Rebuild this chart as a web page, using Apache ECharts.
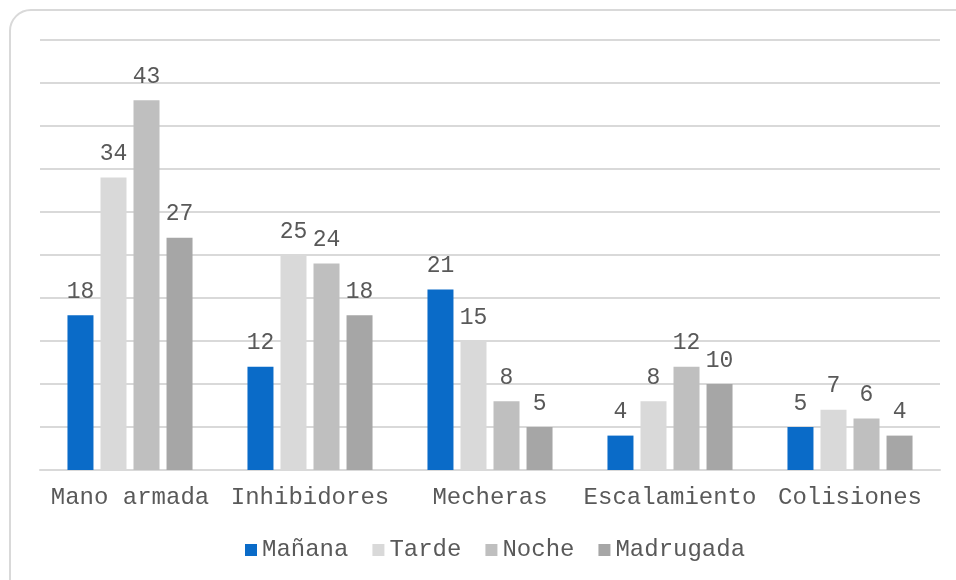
<!DOCTYPE html>
<html>
<head>
<meta charset="utf-8">
<script src="https://cdn.jsdelivr.net/npm/echarts@6/dist/echarts.min.js"></script>
<style>
  html, body { margin: 0; padding: 0; background: #fff; overflow: hidden; }
  #wrap { position: relative; width: 956px; height: 580px; overflow: hidden; }
  #frame {
    position: absolute; left: 9px; top: 9px; width: 970px; height: 600px;
    border: 2px solid #d9d9d9; border-radius: 22px; box-sizing: border-box;
  }
  #grafico { position: absolute; left: 0; top: 0; width: 956px; height: 580px; }
</style>
</head>
<body>
<div id="wrap">
  <div id="frame"></div>
  <div id="grafico"></div>
</div>
<script>
// categorías y valores
var categorias = ['Mano armada', 'Inhibidores', 'Mecheras', 'Escalamiento', 'Colisiones']
var manana = [18, 12, 21, 4, 5]
var tarde = [34, 25, 15, 8, 7]
var noche = [43, 24, 8, 12, 6]
var madrugada = [27, 18, 5, 10, 4]

var fuente = '"Liberation Mono", "Courier New", monospace'
var colorTexto = '#595959'

function serie (nombre, datos, color) {
  return {
    name: nombre,
    type: 'bar',
    data: datos,
    barWidth: 26,
    barGap: '27%',
    itemStyle: { color: color },
    label: {
      show: true,
      position: 'top',
      distance: 12,
      color: colorTexto,
      fontFamily: fuente,
      fontSize: 23
    }
  }
}

var myChart = echarts.init(document.getElementById('grafico'))

myChart.setOption({
  animation: false,
  textStyle: { fontFamily: fuente },
  grid: {
    left: 40,
    right: 16,
    top: 40,
    bottom: 110
  },
  legend: {
    bottom: 13,
    left: 240,
    itemWidth: 12,
    itemHeight: 12,
    itemGap: 24,
    icon: 'rect',
    textStyle: { color: colorTexto, fontFamily: fuente, fontSize: 24 }
  },
  xAxis: {
    type: 'category',
    data: categorias,
    axisTick: { show: false },
    axisLine: { lineStyle: { color: '#d9d9d9', width: 2 } },
    axisLabel: {
      color: colorTexto,
      fontFamily: fuente,
      fontSize: 24,
      margin: 16,
      interval: 0
    }
  },
  yAxis: {
    type: 'value',
    min: 0,
    max: 50,
    interval: 5,
    axisLabel: { show: false },
    axisLine: { show: false },
    axisTick: { show: false },
    splitLine: { lineStyle: { color: '#d9d9d9', width: 2 } }
  },
  series: [
    serie('Mañana', manana, '#0a6bc8'),
    serie('Tarde', tarde, '#d9d9d9'),
    serie('Noche', noche, '#bfbfbf'),
    serie('Madrugada', madrugada, '#a6a6a6')
  ]
})
</script>
</body>
</html>
